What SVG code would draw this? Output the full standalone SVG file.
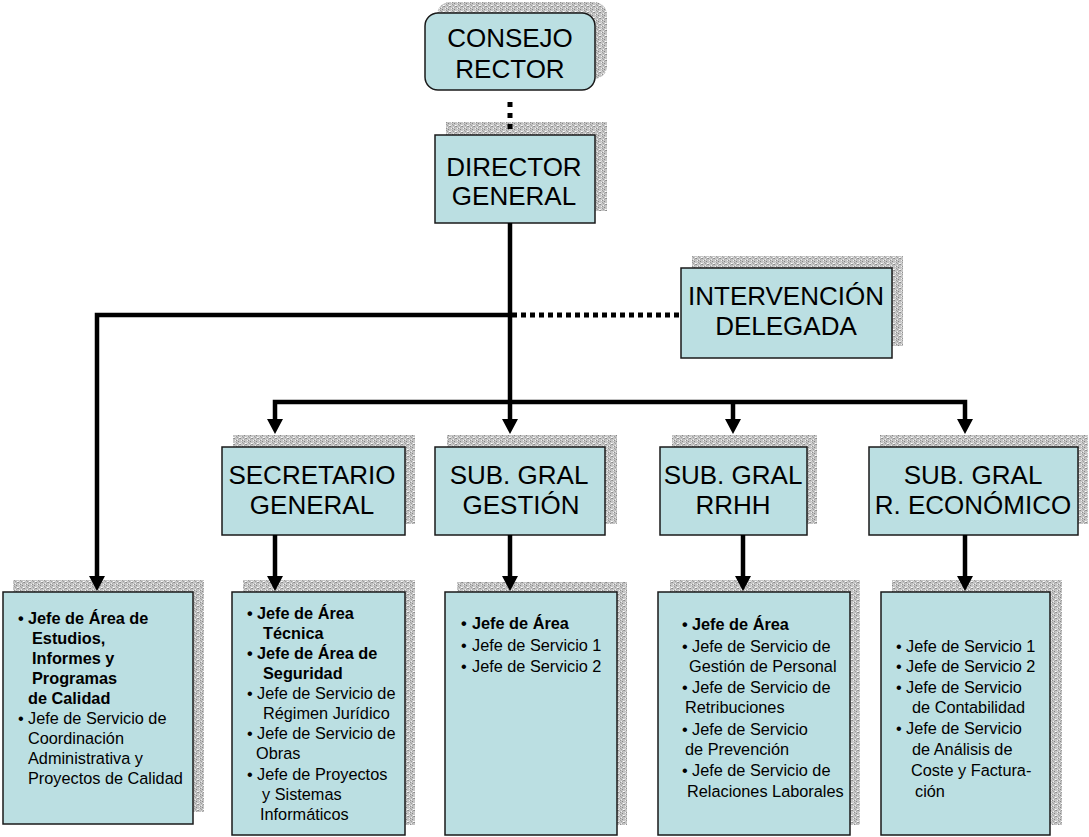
<svg xmlns="http://www.w3.org/2000/svg" width="1089" height="837" viewBox="0 0 1089 837">
<defs>
<pattern id="noise" width="6" height="6" patternUnits="userSpaceOnUse">
<rect width="6" height="6" fill="#c4c4c4"/>
<rect x="0" y="0" width="1" height="1" fill="#8a8a8a"/>
<rect x="3" y="1" width="1" height="1" fill="#eeeeee"/>
<rect x="5" y="0" width="1" height="1" fill="#9a9a9a"/>
<rect x="1" y="2" width="1" height="1" fill="#f2f2f2"/>
<rect x="4" y="3" width="1" height="1" fill="#858585"/>
<rect x="2" y="4" width="1" height="1" fill="#9c9c9c"/>
<rect x="0" y="5" width="1" height="1" fill="#e8e8e8"/>
<rect x="5" y="5" width="1" height="1" fill="#ffffff"/>
<rect x="3" y="5" width="1" height="1" fill="#a0a0a0"/>
<rect x="1" y="4" width="1" height="1" fill="#dddddd"/>
<rect x="4" y="1" width="1" height="1" fill="#a8a8a8"/>
<rect x="2" y="2" width="1" height="1" fill="#909090"/>
</pattern>
</defs>
<style>
.sh{fill:url(#noise);stroke:none}
.bx{fill:#bbdfe2;stroke:#1a1a1a;stroke-width:1.5}
.t{font-family:"Liberation Sans",Arial,sans-serif;font-size:26px;fill:#000;text-anchor:middle}
.s{font-family:"Liberation Sans",Arial,sans-serif;font-size:16.3px;fill:#000}
.b{font-weight:bold}
.ln{fill:none;stroke:#000;stroke-width:4.5;stroke-linecap:butt;stroke-linejoin:miter}
.dot{fill:none;stroke:#000;stroke-width:5}
.ah{fill:#000}
</style>

<g id="consejo-rector">
<rect class="sh" x="437" y="2" width="170" height="77" rx="13"/>
<rect class="bx" x="425" y="13" width="170" height="77" rx="13"/>
<text class="t" x="510" y="47">CONSEJO</text>
<text class="t" x="510" y="78">RECTOR</text>
</g>

<g id="director-general">
<rect class="sh" x="446" y="122" width="161" height="89"/>
<rect class="bx" x="435" y="135" width="160" height="88"/>
<text class="t" x="514" y="176">DIRECTOR</text>
<text class="t" x="514" y="205">GENERAL</text>
</g>

<g id="intervencion-delegada">
<rect class="sh" x="692" y="256" width="211" height="90"/>
<rect class="bx" x="681" y="268" width="211" height="90"/>
<text class="t" x="786" y="305">INTERVENCIÓN</text>
<text class="t" x="786" y="335">DELEGADA</text>
</g>

<g id="secretario-general">
<rect class="sh" x="233" y="435" width="182" height="89"/>
<rect class="bx" x="222" y="447" width="183" height="88"/>
<text class="t" x="312" y="484">SECRETARIO</text>
<text class="t" x="312" y="514">GENERAL</text>
</g>

<g id="sub-gral-gestion">
<rect class="sh" x="447" y="435" width="170" height="89"/>
<rect class="bx" x="435" y="447" width="170" height="88"/>
<text class="t" x="519" y="484">SUB. GRAL</text>
<text class="t" x="521" y="514">GESTIÓN</text>
</g>

<g id="sub-gral-rrhh">
<rect class="sh" x="672" y="435" width="145" height="89"/>
<rect class="bx" x="660" y="447" width="147" height="88"/>
<text class="t" x="733" y="484">SUB. GRAL</text>
<text class="t" x="733" y="514">RRHH</text>
</g>

<g id="sub-gral-economico">
<rect class="sh" x="880" y="435" width="208" height="89"/>
<rect class="bx" x="869" y="447" width="209" height="88"/>
<text class="t" x="973" y="484">SUB. GRAL</text>
<text class="t" x="973" y="514">R. ECONÓMICO</text>
</g>

<g id="box-estudios">
<rect class="sh" x="13" y="580" width="191" height="232"/>
<rect class="bx" x="3" y="592" width="190" height="232"/>
<text class="s b" x="18" y="624">•</text>
<text class="s b" x="28" y="624">Jefe de Área de</text>
<text class="s b" x="32" y="644">Estudios,</text>
<text class="s b" x="32" y="664">Informes y</text>
<text class="s b" x="32" y="684">Programas</text>
<text class="s b" x="28" y="704">de Calidad</text>
<text class="s" x="18" y="724">•</text>
<text class="s" x="28" y="724">Jefe de Servicio de</text>
<text class="s" x="28" y="744">Coordinación</text>
<text class="s" x="28" y="764">Administrativa y</text>
<text class="s" x="28" y="784">Proyectos de Calidad</text>
</g>

<g id="box-secretario">
<rect class="sh" x="243" y="580" width="172" height="245"/>
<rect class="bx" x="232" y="592" width="173" height="243"/>
<text class="s b" x="247" y="619">•</text>
<text class="s b" x="257" y="619">Jefe de Área</text>
<text class="s b" x="263" y="639">Técnica</text>
<text class="s b" x="247" y="659">•</text>
<text class="s b" x="257" y="659">Jefe de Área de</text>
<text class="s b" x="263" y="679">Seguridad</text>
<text class="s" x="247" y="699">•</text>
<text class="s" x="257" y="699">Jefe de Servicio de</text>
<text class="s" x="263" y="719">Régimen Jurídico</text>
<text class="s" x="247" y="739">•</text>
<text class="s" x="257" y="739">Jefe de Servicio de</text>
<text class="s" x="256" y="759">Obras</text>
<text class="s" x="247" y="780">•</text>
<text class="s" x="257" y="780">Jefe de Proyectos</text>
<text class="s" x="262" y="800">y Sistemas</text>
<text class="s" x="260" y="820">Informáticos</text>
</g>

<g id="box-gestion">
<rect class="sh" x="457" y="582" width="170" height="243"/>
<rect class="bx" x="445" y="592" width="172" height="243"/>
<text class="s b" x="461" y="629">•</text>
<text class="s b" x="472" y="629">Jefe de Área</text>
<text class="s" x="461" y="651">•</text>
<text class="s" x="472" y="651">Jefe de Servicio 1</text>
<text class="s" x="461" y="672">•</text>
<text class="s" x="472" y="672">Jefe de Servicio 2</text>
</g>

<g id="box-rrhh">
<rect class="sh" x="670" y="580" width="190" height="245"/>
<rect class="bx" x="658" y="592" width="192" height="243"/>
<text class="s b" x="682" y="630">•</text>
<text class="s b" x="692" y="630">Jefe de Área</text>
<text class="s" x="682" y="652">•</text>
<text class="s" x="692" y="652">Jefe de Servicio de</text>
<text class="s" x="689" y="672">Gestión de Personal</text>
<text class="s" x="682" y="693">•</text>
<text class="s" x="692" y="693">Jefe de Servicio de</text>
<text class="s" x="685" y="713">Retribuciones</text>
<text class="s" x="682" y="735">•</text>
<text class="s" x="692" y="735">Jefe de Servicio</text>
<text class="s" x="685" y="755">de Prevención</text>
<text class="s" x="682" y="776">•</text>
<text class="s" x="692" y="776">Jefe de Servicio de</text>
<text class="s" x="687" y="797">Relaciones Laborales</text>
</g>

<g id="box-economico">
<rect class="sh" x="892" y="580" width="170" height="245"/>
<rect class="bx" x="881" y="592" width="169" height="243"/>
<text class="s" x="896" y="652">•</text>
<text class="s" x="906" y="652">Jefe de Servicio 1</text>
<text class="s" x="896" y="672">•</text>
<text class="s" x="906" y="672">Jefe de Servicio 2</text>
<text class="s" x="896" y="693">•</text>
<text class="s" x="906" y="693">Jefe de Servicio</text>
<text class="s" x="912" y="713">de Contabilidad</text>
<text class="s" x="896" y="734">•</text>
<text class="s" x="906" y="734">Jefe de Servicio</text>
<text class="s" x="912" y="755">de Análisis de</text>
<text class="s" x="911" y="776">Coste y Factura-</text>
<text class="s" x="915" y="797">ción</text>
</g>

<g id="connectors">
<line class="dot" x1="510" y1="102" x2="510" y2="130" stroke-dasharray="5 6"/>
<line class="dot" x1="512" y1="315" x2="680" y2="315" stroke-dasharray="5 4" stroke-width="4"/>
<path class="ln" d="M510,223 V420"/>
<path class="ln" d="M510,315 H97 V578"/>
<path class="ln" d="M275,420 V402 H965 V420"/>
<path class="ln" d="M733,402 V420"/>
<polygon class="ah" points="502,419 518,419 510,434"/>
<polygon class="ah" points="267,419 283,419 275,434"/>
<polygon class="ah" points="725,419 741,419 733,434"/>
<polygon class="ah" points="957,419 973,419 965,434"/>
<path class="ln" d="M275,535 V578"/>
<path class="ln" d="M510,535 V578"/>
<path class="ln" d="M743,535 V578"/>
<path class="ln" d="M965,535 V578"/>
<polygon class="ah" points="89,576 105,576 97,591"/>
<polygon class="ah" points="267,576 283,576 275,591"/>
<polygon class="ah" points="502,576 518,576 510,591"/>
<polygon class="ah" points="735,576 751,576 743,591"/>
<polygon class="ah" points="957,576 973,576 965,591"/>
</g>
</svg>
